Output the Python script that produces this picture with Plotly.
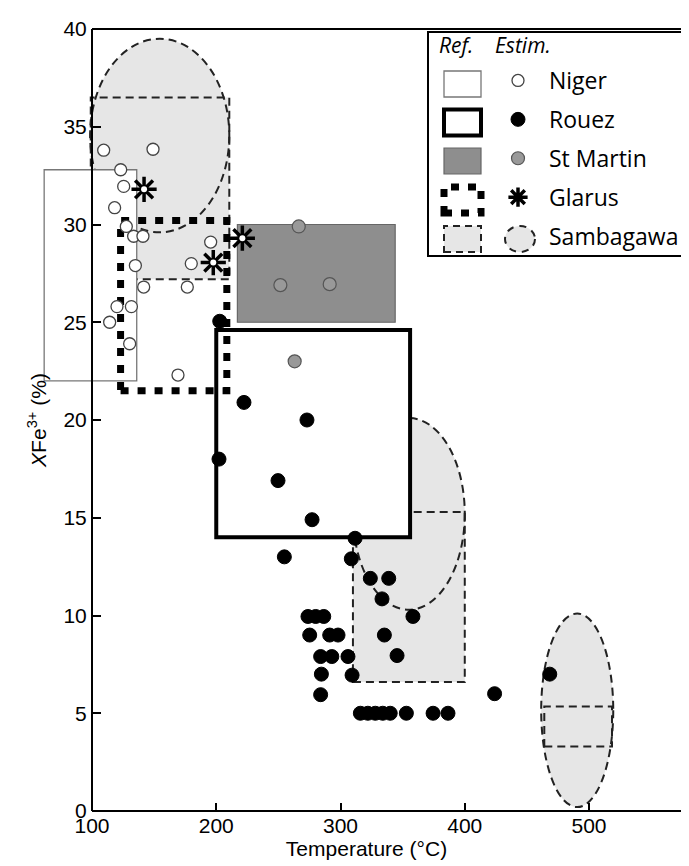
import plotly.graph_objects as go

# ---------------- data (temperature in °C, XFe3+ in %) ----------------
niger_T = [109.4, 149.1, 123.1, 125.5, 118.2, 127.6, 133.5, 141.0, 134.9, 141.6,
           176.7, 179.9, 195.5, 120.1, 131.7, 114.2, 130.3, 169.2]
niger_X = [33.8, 33.85, 32.8, 31.95, 30.86, 29.9, 29.4, 29.4, 27.9, 26.8,
           26.8, 28.0, 29.1, 25.8, 25.8, 25.0, 23.9, 22.3]

rouez_T = [202.8, 222.3, 273.0, 202.2, 249.7, 277.1, 311.7, 254.8, 308.7, 324.0,
           338.8, 333.4, 358.3, 273.8, 280.0, 286.5, 275.2, 291.3, 298.0, 335.3,
           284.0, 293.0, 306.0, 345.5, 284.6, 309.3, 284.0, 316.0, 322.0, 328.0,
           334.0, 340.0, 353.0, 374.5, 386.5, 424.0, 468.4]
rouez_X = [25.05, 20.9, 20.0, 18.0, 16.9, 14.9, 13.95, 13.0, 12.9, 11.9,
           11.9, 10.85, 9.95, 9.95, 9.95, 9.95, 9.0, 9.0, 9.0, 9.0,
           7.9, 7.9, 7.9, 7.95, 7.0, 6.95, 5.95, 5.0, 5.0, 5.0,
           5.0, 5.0, 5.0, 5.0, 5.0, 6.0, 7.0]

stmartin_T = [266.4, 251.6, 291.3, 263.1]
stmartin_X = [29.9, 26.9, 26.95, 23.0]

glarus_T = [141.9, 197.6, 221.0]
glarus_X = [31.8, 28.05, 29.3]

# reference ranges (rectangles): Niger, Rouez, St Martin, Glarus
ref_names = ["Niger", "Rouez", "St Martin", "Glarus"]
ref_Tmin = [61.5, 200.0, 217.0, 123.0]
ref_Tmax = [136.0, 356.0, 344.0, 208.5]
ref_Xmin = [22.0, 14.0, 25.0, 21.5]
ref_Xmax = [32.8, 24.6, 30.0, 30.2]

# Sambagawa reference rectangles
samb_ref_Tmin = [99.0, 310.0, 464.0]
samb_ref_Tmax = [210.5, 400.0, 518.5]
samb_ref_Xmin = [27.2, 6.6, 3.3]
samb_ref_Xmax = [36.5, 15.3, 5.35]

# Sambagawa estimates (ellipses: centre and half-widths)
samb_est_Tc = [154.5, 355.0, 490.5]
samb_est_Tr = [56.0, 45.0, 29.0]
samb_est_Xc = [34.55, 15.2, 5.15]
samb_est_Xr = [4.95, 4.9, 4.95]

x_ticks = [100, 200, 300, 400, 500]
y_ticks = [0, 5, 10, 15, 20, 25, 30, 35, 40]

# ---------------- layout helpers ----------------
W, H = 689, 866
ML, MR, MT, MB = 28, 0, 21, 63
X_LO, X_HI = 54.93, 586.9
Y_LO, Y_HI = 0, 40
SAMB_FILL = "#e6e6e6"
SAMB_DASH = "8px,5px"
GLARUS_DASH = "8px,9px"


def px(xp):
    return (xp - ML) / (W - ML - MR)


def py(yp):
    return (H - MB - yp) / (H - MT - MB)


shapes = []
# Sambagawa fills
for i in range(3):
    shapes.append(dict(type="circle", xref="x", yref="y", layer="below",
                       x0=samb_est_Tc[i] - samb_est_Tr[i], x1=samb_est_Tc[i] + samb_est_Tr[i],
                       y0=samb_est_Xc[i] - samb_est_Xr[i], y1=samb_est_Xc[i] + samb_est_Xr[i],
                       fillcolor=SAMB_FILL, line=dict(width=0)))
    shapes.append(dict(type="rect", xref="x", yref="y", layer="below",
                       x0=samb_ref_Tmin[i], x1=samb_ref_Tmax[i],
                       y0=samb_ref_Xmin[i], y1=samb_ref_Xmax[i],
                       fillcolor=SAMB_FILL, line=dict(width=0)))
# Sambagawa outlines
for i in range(3):
    shapes.append(dict(type="circle", xref="x", yref="y", layer="below",
                       x0=samb_est_Tc[i] - samb_est_Tr[i], x1=samb_est_Tc[i] + samb_est_Tr[i],
                       y0=samb_est_Xc[i] - samb_est_Xr[i], y1=samb_est_Xc[i] + samb_est_Xr[i],
                       fillcolor="rgba(0,0,0,0)", line=dict(color="#222", width=2, dash=SAMB_DASH)))
    shapes.append(dict(type="rect", xref="x", yref="y", layer="below",
                       x0=samb_ref_Tmin[i], x1=samb_ref_Tmax[i],
                       y0=samb_ref_Xmin[i], y1=samb_ref_Xmax[i],
                       fillcolor="rgba(0,0,0,0)", line=dict(color="#222", width=2, dash=SAMB_DASH)))

ref_styles = [
    dict(fillcolor="white", line=dict(color="#777", width=1.3)),
    dict(fillcolor="white", line=dict(color="black", width=4)),
    dict(fillcolor="#8e8e8e", line=dict(color="#666", width=1.2)),
    dict(fillcolor="rgba(0,0,0,0)", line=dict(color="black", width=7, dash=GLARUS_DASH)),
]
for i in range(4):
    shapes.append(dict(type="rect", xref="x", yref="y", layer="below",
                       x0=ref_Tmin[i], x1=ref_Tmax[i], y0=ref_Xmin[i], y1=ref_Xmax[i],
                       **ref_styles[i]))

# axis frame lines (bottom and top), starting at the y axis
shapes.append(dict(type="line", xref="x", yref="paper", layer="above",
                   x0=x_ticks[0], x1=X_HI, y0=0, y1=0, line=dict(color="black", width=2)))
shapes.append(dict(type="line", xref="x", yref="paper", layer="above",
                   x0=x_ticks[0], x1=X_HI, y0=1, y1=1, line=dict(color="black", width=2)))

# legend box and "Ref." symbols
shapes.append(dict(type="rect", xref="paper", yref="paper", layer="above",
                   x0=px(420), x1=px(686), y0=py(248), y1=py(24),
                   fillcolor="white", line=dict(color="black", width=2)))
leg_rows = [76, 114.5, 153, 192, 231]
for i in range(4):
    shapes.append(dict(type="rect", xref="paper", yref="paper", layer="above",
                       x0=px(436), x1=px(473), y0=py(leg_rows[i] + 13), y1=py(leg_rows[i] - 13),
                       **ref_styles[i]))
shapes.append(dict(type="rect", xref="paper", yref="paper", layer="above",
                   x0=px(436), x1=px(473), y0=py(leg_rows[4] + 13), y1=py(leg_rows[4] - 13),
                   fillcolor=SAMB_FILL, line=dict(color="#222", width=2, dash="7px,5px")))
shapes.append(dict(type="circle", xref="paper", yref="paper", layer="above",
                   x0=px(497), x1=px(527), y0=py(leg_rows[4] + 13), y1=py(leg_rows[4] - 13),
                   fillcolor=SAMB_FILL, line=dict(color="#222", width=2, dash="7px,6px")))

fig = go.Figure()
fig.add_trace(go.Scatter(x=niger_T, y=niger_X, mode="markers", name="Niger", legendgroup="a",
                         marker=dict(symbol="circle", size=12, color="white",
                                     line=dict(color="#444", width=1.3))))
fig.add_trace(go.Scatter(x=rouez_T, y=rouez_X, mode="markers", name="Rouez", legendgroup="b",
                         marker=dict(symbol="circle", size=14, color="black",
                                     line=dict(color="black", width=1))))
fig.add_trace(go.Scatter(x=stmartin_T, y=stmartin_X, mode="markers", name="St Martin", legendgroup="c",
                         marker=dict(symbol="circle", size=13, color="#999",
                                     line=dict(color="#555", width=1.2))))
fig.add_trace(go.Scatter(x=glarus_T, y=glarus_X, mode="markers", name="Glarus", legendgroup="d",
                         marker=dict(symbol="asterisk-open", size=21, color="black",
                                     line=dict(color="black", width=3.5))))
fig.add_trace(go.Scatter(x=glarus_T, y=glarus_X, mode="markers", showlegend=False, hoverinfo="skip",
                         marker=dict(symbol="circle", size=6, color="white", line=dict(width=0))))
fig.add_trace(go.Scatter(x=[None], y=[None], mode="markers", name="Sambagawa", legendgroup="e",
                         marker=dict(symbol="circle", size=20, color="rgba(0,0,0,0)",
                                     line=dict(width=0))))

fig.update_layout(
    width=W, height=H,
    margin=dict(l=ML, r=MR, t=MT, b=MB, autoexpand=False),
    paper_bgcolor="white", plot_bgcolor="white",
    font=dict(family="Liberation Sans, Arial, sans-serif", color="black", size=20),
    shapes=shapes,
    showlegend=True,
    legend=dict(x=px(479), y=py(51), xanchor="left", yanchor="top",
                bgcolor="rgba(0,0,0,0)", borderwidth=0,
                font=dict(family="Open Sans, sans-serif", size=23, color="black"),
                itemwidth=52, traceorder="grouped", tracegroupgap=6),
    annotations=[
        dict(xref="paper", yref="paper", x=px(429), y=py(37), xanchor="left", yanchor="middle",
             text="<i>Ref.</i>", showarrow=False,
             font=dict(family="Open Sans, sans-serif", size=21, color="black")),
        dict(xref="paper", yref="paper", x=px(485), y=py(37), xanchor="left", yanchor="middle",
             text="<i>Estim.</i>", showarrow=False,
             font=dict(family="Open Sans, sans-serif", size=21, color="black")),
    ],
    xaxis=dict(range=[X_LO, X_HI], showgrid=False, zeroline=False, showline=False,
               tickvals=x_ticks, ticktext=[str(v) for v in x_ticks],
               ticks="inside", ticklen=8, tickwidth=1.5, tickcolor="black",
               tickfont=dict(size=21), automargin=False,
               title=dict(text="Temperature (°C)", font=dict(size=21), standoff=4)),
    yaxis=dict(range=[Y_LO, Y_HI], showgrid=False, zeroline=False,
               anchor="free", position=px(84), side="left",
               showline=True, linecolor="black", linewidth=2,
               tickvals=y_ticks, ticktext=[str(v) for v in y_ticks],
               ticks="inside", ticklen=8, tickwidth=1.5, tickcolor="black",
               tickfont=dict(size=21), automargin=False,
               title=dict(text="<i>X</i>Fe<sup>3+</sup> (%)", font=dict(size=21), standoff=10)),
)

fig.write_html("out.html")
